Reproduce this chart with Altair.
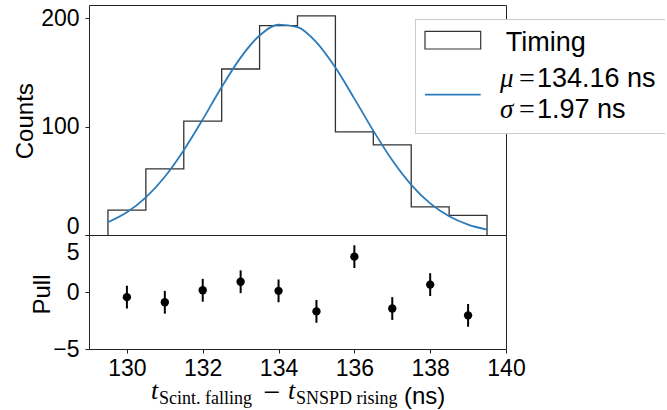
import altair as alt
import pandas as pd

# ---------------- data ----------------
bin_edges = [129.5, 130.5, 131.5, 132.5, 133.5, 134.5, 135.5, 136.5, 137.5, 138.5, 139.5]
counts = [23, 61, 105, 153, 193, 202, 95, 83, 26, 18]

fit_x = [129.5, 130.0, 130.5, 131.0, 131.5, 132.0, 132.5, 133.0, 133.5, 134.0, 134.5,
         135.0, 135.5, 136.0, 136.5, 137.0, 137.5, 138.0, 138.5, 139.0, 139.5]
fit_y = [11.8, 20.9, 34.6, 53.7, 78.2, 106.6, 136.4, 163.5, 183.9, 193.9, 191.6,
         177.6, 154.3, 125.7, 96.1, 68.8, 46.2, 29.1, 17.2, 9.5, 4.9]

pull_x = [130, 131, 132, 133, 134, 135, 136, 137, 138, 139]
pull_y = [-0.45, -0.9, 0.15, 0.9, 0.1, -1.7, 3.1, -1.45, 0.65, -2.05]
pull_err = [1, 1, 1, 1, 1, 1, 1, 1, 1, 1]

x_ticks = [130, 132, 134, 136, 138, 140]
count_ticks = [0, 100, 200]
pull_ticks = [-5, 0, 5]

legend_hist_label = "Timing"
mu_label = "134.16 ns"
sigma_label = "1.97 ns"
xlabel_parts = ["t", "Scint. falling", "\u2212", "t", "SNSPD rising", "(ns)"]

# ---------------- styling ----------------
SANS = "Liberation Sans"
SERIF = "Liberation Serif"
HIST_COLOR = "#333333"
FIT_COLOR = "#2b7bba"
FRAME = "#222222"
LEG_FS = 27

x_scale = alt.Scale(domain=[129, 140], nice=False, zero=False)
count_scale = alt.Scale(domain=[0, 212], nice=False, zero=False)
pull_scale = alt.Scale(domain=[-5, 5], nice=False, zero=False)

W, H_TOP, H_BOT = 417, 230, 114
LEFT, TOP = 88, 4   # canvas room left of / above the top plot area

count_axis = alt.Axis(
    values=count_ticks, title="Counts", titleAngle=270, titleX=-56.7, titleY=115.7,
    titleAlign="center", titleBaseline="alphabetic", tickSize=4, labelPadding=6,
    labelOverlap=False, labelBaseline="middle",
    labelOffset={"condition": {"test": "datum.value == 0", "value": -9}, "value": 0},
)
pull_axis = alt.Axis(
    values=pull_ticks, title="Pull", titleAngle=270, titleX=-40, titleY=59,
    titleAlign="center", titleBaseline="alphabetic", tickSize=4, labelPadding=6,
    labelOverlap=False, labelBaseline="middle",
    labelOffset={"condition": {"test": "datum.value == 5", "value": 17}, "value": 0},
)
x_axis = alt.Axis(values=x_ticks, title=None, tickSize=4, labelPadding=4,
                  labelFlush=False, labelOverlap=False)


def text_at(txt, x, y, size=LEG_FS, font=SANS, style="normal", align="left",
            baseline="alphabetic"):
    return alt.Chart(pd.DataFrame({"label": [txt]})).mark_text(
        align=align, baseline=baseline, font=font, fontSize=size,
        fontStyle=style, color="black"
    ).encode(x=alt.value(x), y=alt.value(y), text="label:N")


# ---------------- top panel ----------------
step_x = [bin_edges[0]] + bin_edges[:-1] + [bin_edges[-1], bin_edges[-1]]
step_y = [0] + counts + [counts[-1], 0]
step_df = pd.DataFrame({"i": list(range(len(step_x))), "t": step_x, "n": step_y})
fit_df = pd.DataFrame({"i": list(range(len(fit_x))), "t": fit_x, "n": fit_y})

hist = alt.Chart(step_df).mark_line(
    interpolate="step-after", color=HIST_COLOR, strokeWidth=1.3
).encode(
    x=alt.X("t:Q", scale=x_scale, axis=None),
    y=alt.Y("n:Q", scale=count_scale, axis=count_axis),
    order="i:Q",
)
fit = alt.Chart(fit_df).mark_line(
    interpolate="monotone", color=FIT_COLOR, strokeWidth=1.8
).encode(
    x=alt.X("t:Q", scale=x_scale, axis=None),
    y=alt.Y("n:Q", scale=count_scale, axis=count_axis),
    order="i:Q",
)

one = pd.DataFrame({"a": [0]})
leg_bg = alt.Chart(one).mark_rect(fill="white", stroke=None, opacity=1).encode(
    x=alt.value(326), x2=alt.value(577), y=alt.value(14), y2=alt.value(129))
leg_top = alt.Chart(one).mark_rule(color="#cccccc", strokeWidth=1).encode(
    x=alt.value(326), x2=alt.value(576), y=alt.value(14.5))
leg_bot = alt.Chart(one).mark_rule(color="#cccccc", strokeWidth=1).encode(
    x=alt.value(326), x2=alt.value(576), y=alt.value(128.5))
leg_left = alt.Chart(one).mark_rule(color="#cccccc", strokeWidth=1).encode(
    x=alt.value(326.5), y=alt.value(14), y2=alt.value(129))
leg_patch = alt.Chart(one).mark_rect(fill="white", stroke=HIST_COLOR, strokeWidth=1.2).encode(
    x=alt.value(336), x2=alt.value(391.7), y=alt.value(26.3), y2=alt.value(44))
leg_line = alt.Chart(one).mark_rule(color=FIT_COLOR, strokeWidth=1.8).encode(
    x=alt.value(336), x2=alt.value(391.7), y=alt.value(89.7))

leg_texts = [
    text_at(legend_hist_label, 416.7, 46),
    text_at("\u03bc", 411, 82.3, font=SERIF, style="italic"),
    text_at("=", 430, 82.3, size=28, font=SERIF),
    text_at(mu_label, 448, 82.3),
    text_at("\u03c3", 411, 113.3, font=SERIF, style="italic"),
    text_at("=", 430, 113.3, size=28, font=SERIF),
    text_at(sigma_label, 448, 113.3),
]

bound_top = alt.Chart(one).mark_rule(strokeOpacity=0, strokeWidth=1).encode(
    x=alt.value(-LEFT), x2=alt.value(577), y=alt.value(-TOP))

top = alt.layer(bound_top, hist, fit, leg_bg, leg_top, leg_bot, leg_left,
                leg_patch, leg_line, *leg_texts).properties(width=W, height=H_TOP)

# ---------------- bottom panel ----------------
pull_df = pd.DataFrame({"t": pull_x, "pull": pull_y, "err": pull_err})
pull_df["lo"] = pull_df["pull"] - pull_df["err"]
pull_df["hi"] = pull_df["pull"] + pull_df["err"]

err = alt.Chart(pull_df).mark_rule(color="black", strokeWidth=2).encode(
    x=alt.X("t:Q", scale=x_scale, axis=x_axis),
    y=alt.Y("lo:Q", scale=pull_scale, axis=pull_axis),
    y2="hi:Q",
)
pts = alt.Chart(pull_df).mark_point(filled=True, size=70, color="black", opacity=1).encode(
    x=alt.X("t:Q", scale=x_scale, axis=x_axis),
    y=alt.Y("pull:Q", scale=pull_scale, axis=pull_axis),
)

xl = [
    text_at(xlabel_parts[0], 62, 164, size=26, font=SERIF, style="italic"),
    text_at(xlabel_parts[1], 70, 169, size=18, font=SERIF),
    text_at(xlabel_parts[2], 183, 158, size=30, font=SERIF, align="center", baseline="middle"),
    text_at(xlabel_parts[3], 199, 164, size=26, font=SERIF, style="italic"),
    text_at(xlabel_parts[4], 207, 169, size=18, font=SERIF),
    text_at(xlabel_parts[5], 315, 169, size=24),
]

bound_bot = alt.Chart(one).mark_rule(strokeOpacity=0, strokeWidth=1).encode(
    x=alt.value(-LEFT), x2=alt.value(577), y=alt.value(172))

bottom = alt.layer(bound_bot, err, pts, *xl).properties(width=W, height=H_BOT)

chart = alt.vconcat(top, bottom, spacing=0, bounds="flush").properties(padding=0).configure_view(
    stroke=FRAME, strokeWidth=1
).configure_axis(
    grid=False, domain=False, ticks=True, tickColor=FRAME, tickWidth=1,
    labelFont=SANS, labelFontSize=23, labelColor="black",
    titleFont=SANS, titleFontSize=24, titleFontWeight="normal", titleColor="black",
)

chart.save("out.html", embed_options={"renderer": "svg", "actions": False})
